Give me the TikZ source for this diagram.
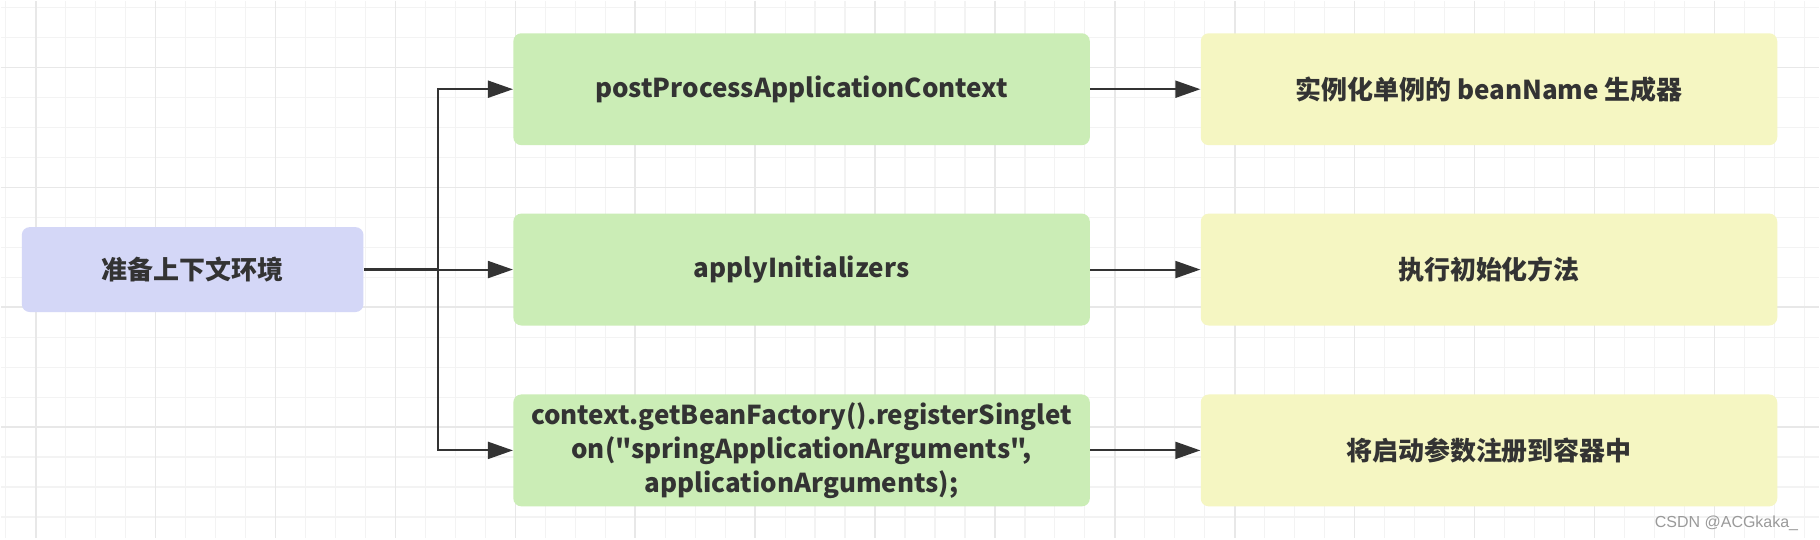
\documentclass[tikz,border=0pt]{standalone}
\usepackage{fontspec}
\newfontfamily\boxfont{Noto Sans CJK SC}
\newfontfamily\markfont{Liberation Sans}
\usetikzlibrary{arrows.meta}
\definecolor{ink}{HTML}{333333}
\definecolor{prepfill}{HTML}{D4D7F7}
\definecolor{callfill}{HTML}{CBEDB6}
\definecolor{notefill}{HTML}{F5F6C2}
\definecolor{gridminor}{HTML}{F3F3F3}
\definecolor{gridmajor}{HTML}{E8E8E8}
\definecolor{markgray}{HTML}{9A9A9A}
\tikzset{
  box/.style={rounded corners=4pt, inner sep=0pt, align=center, text=ink,
    font=\boxfont\bfseries\fontsize{13}{17}\selectfont},
  prepbox/.style={box, fill=prepfill, minimum width=171pt, minimum height=42.5pt},
  callbox/.style={box, fill=callfill, minimum width=288.5pt, minimum height=56pt},
  notebox/.style={box, fill=notefill, minimum width=288.5pt, minimum height=56pt},
  link/.style={draw=ink, line width=1pt, -{Triangle[length=12.5pt,width=8.5pt]}}
}

\begin{document}
\begin{tikzpicture}[x=0.5pt,y=-0.5pt]

        %paper and grid
        \fill[white] (0,0) rectangle (1820,538);
        \foreach \gx in {5,35,...,1805} \draw[gridminor, line width=0.6pt] (\gx,0) -- (\gx,538);
        \foreach \gy in {6.7,36.7,...,516.7} \draw[gridminor, line width=0.6pt] (0,\gy) -- (1820,\gy);
        \foreach \gx in {35,155,...,1715} \draw[gridmajor, line width=0.8pt] (\gx,0) -- (\gx,538);
        \foreach \gy in {66.7,186.7,...,426.7} \draw[gridmajor, line width=0.8pt] (0,\gy) -- (1820,\gy);

        %start box
        \node[prepbox] (prep) at (192,269) {准备上下文环境};

        %calls made while preparing
        \node[callbox] (post) at (801.5,88.5) {postProcessApplicationContext};
        \node[callbox] (init) at (801.5,269) {applyInitializers};
        \node[callbox] (reg) at (801.5,450) {context.getBeanFactory().registerSinglet\\on("springApplicationArguments",\\applicationArguments);};

        %what each call does
        \node[notebox] (beanname) at (1489.5,88.5) {实例化单例的 beanName 生成器};
        \node[notebox] (initdo) at (1489.5,269) {执行初始化方法};
        \node[notebox] (regdo) at (1489.5,450) {将启动参数注册到容器中};

        %fork from start box to the calls
        \coordinate (fork) at (438,269);
        \draw[ink, line width=1.2pt] (prep.east) -- (fork);
        \draw[link] (fork) |- (post.west);
        \draw[link] (fork) -- (init.west);
        \draw[link] (fork) |- (reg.west);

        %calls to their notes
        \draw[link] (post.east) -- (beanname.west);
        \draw[link] (init.east) -- (initdo.west);
        \draw[link] (reg.east) -- (regdo.west);

        %watermark
        \node[anchor=east, text=markgray, font=\markfont\fontsize{8}{9}\selectfont] (mark) at (1806,523) {CSDN @ACGkaka\_};

    \end{tikzpicture}
\end{document}
